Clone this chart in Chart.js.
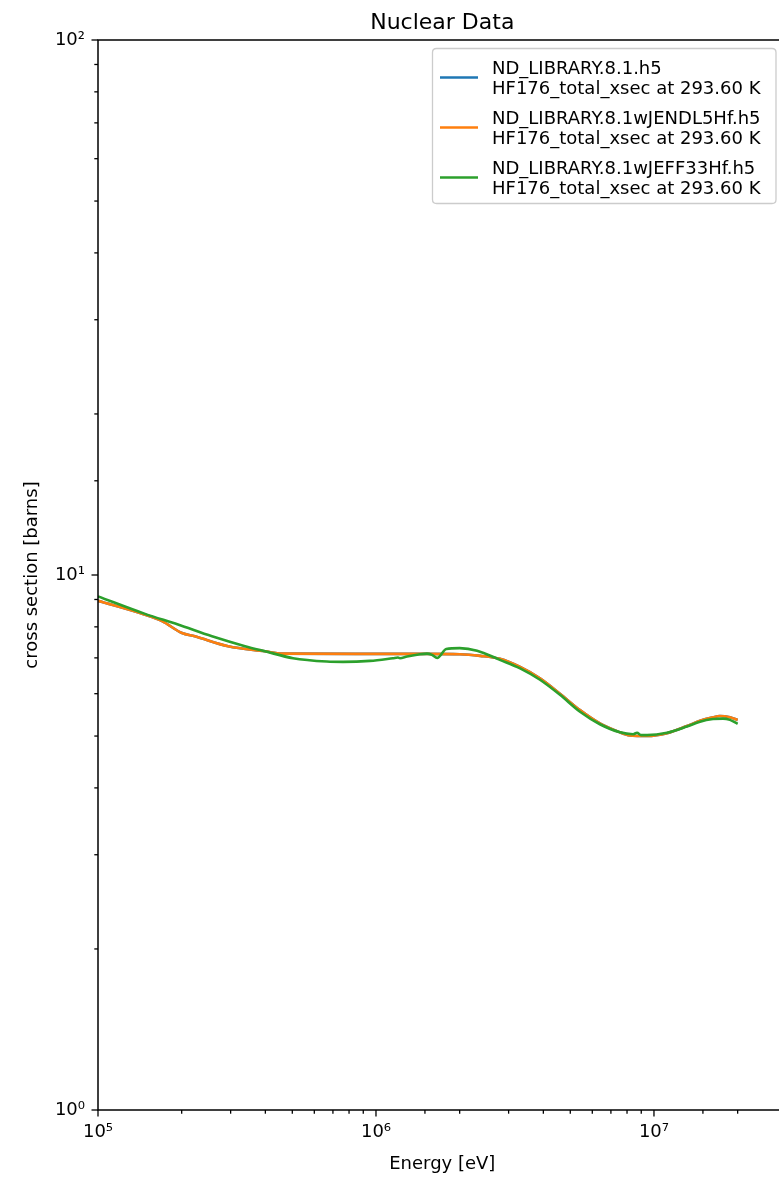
<!DOCTYPE html>
<html>
<head>
<meta charset="utf-8">
<script src="https://cdn.jsdelivr.net/npm/chart.js@4.4.1/dist/chart.umd.min.js"></script>
<style>
  html, body { margin: 0; padding: 0; overflow: hidden; background: #ffffff; }
  #wrap { width: 800px; height: 1177px; }
</style>
</head>
<body>
<div id="wrap"><canvas id="c" width="800" height="1177"></canvas></div>
<script>
// ---- text ----
const chartTitle = 'Nuclear Data';
const xAxisTitle = 'Energy [eV]';
const yAxisTitle = 'cross section [barns]';
const seriesNames = [
  ['ND_LIBRARY.8.1.h5', 'HF176_total_xsec at 293.60 K'],
  ['ND_LIBRARY.8.1wJENDL5Hf.h5', 'HF176_total_xsec at 293.60 K'],
  ['ND_LIBRARY.8.1wJEFF33Hf.h5', 'HF176_total_xsec at 293.60 K']
];
const seriesColors = ['#1f77b4', '#ff7f0e', '#2ca02c'];

// ---- axis ranges and decade labels ----
const xRange = [1e5, 3e7];
const yRange = [1, 100];
const xDecadeLabels = { 5: '10⁵', 6: '10⁶', 7: '10⁷' };
const yDecadeLabels = { 0: '10⁰', 1: '10¹', 2: '10²' };

// ---- ND_LIBRARY.8.1 (base library) ----
const energyBase = [1.00e5, 1.476e5, 1.70e5, 2.005e5, 2.23e5, 2.94e5, 3.99e5, 4.60e5, 8.50e5, 1.50e6,
  2.00e6, 2.37e6, 2.79e6, 3.30e6, 3.89e6, 4.59e6, 5.42e6, 6.39e6, 7.55e6, 8.20e6,
  8.69e6, 9.44e6, 1.114e7, 1.314e7, 1.464e7, 1.63e7, 1.725e7, 1.877e7, 2.00e7];
const xsBase = [8.95, 8.43, 8.20, 7.79, 7.68, 7.36, 7.20, 7.13, 7.12, 7.12,
  7.11, 7.06, 6.97, 6.73, 6.41, 6.00, 5.59, 5.28, 5.08, 5.01,
  5.00, 5.00, 5.06, 5.22, 5.34, 5.42, 5.45, 5.42, 5.36];

// ---- ND_LIBRARY.8.1 with JENDL-5 Hf ----
const energyJendl = [1.00e5, 1.476e5, 1.70e5, 2.005e5, 2.23e5, 2.94e5, 3.99e5, 4.60e5, 8.50e5, 1.50e6,
  2.00e6, 2.37e6, 2.79e6, 3.30e6, 3.89e6, 4.59e6, 5.42e6, 6.39e6, 7.55e6, 8.20e6,
  8.69e6, 9.44e6, 1.114e7, 1.314e7, 1.464e7, 1.63e7, 1.725e7, 1.877e7, 2.00e7];
const xsJendl = [8.95, 8.43, 8.20, 7.79, 7.68, 7.36, 7.20, 7.13, 7.12, 7.12,
  7.11, 7.06, 6.97, 6.73, 6.41, 6.00, 5.59, 5.28, 5.08, 5.01,
  5.00, 5.00, 5.06, 5.22, 5.34, 5.42, 5.45, 5.42, 5.36];

// ---- ND_LIBRARY.8.1 with JEFF-3.3 Hf ----
const energyJeff = [1.00e5, 1.476e5, 1.94e5, 2.571e5, 3.38e5, 3.99e5, 5.03e5, 6.66e5, 7.61e5, 9.51e5,
  1.151e6, 1.20e6, 1.22e6, 1.293e6, 1.44e6, 1.526e6, 1.59e6, 1.66e6, 1.79e6, 2.00e6,
  2.31e6, 2.79e6, 3.30e6, 3.89e6, 4.59e6, 5.42e6, 6.39e6, 7.55e6, 8.41e6, 8.69e6,
  8.99e6, 9.44e6, 1.114e7, 1.314e7, 1.464e7, 1.63e7, 1.771e7, 1.877e7, 2.00e7];
const xsJeff = [9.12, 8.46, 8.08, 7.68, 7.36, 7.20, 6.99, 6.89, 6.88, 6.91,
  6.99, 7.01, 6.99, 7.04, 7.11, 7.13, 7.09, 7.00, 7.27, 7.30,
  7.22, 6.94, 6.69, 6.37, 5.97, 5.55, 5.26, 5.08, 5.04, 5.07,
  5.02, 5.02, 5.07, 5.21, 5.32, 5.38, 5.39, 5.36, 5.27];

const FONT = 'DejaVu Sans';
const toPoints = (xs, ys) => xs.map((x, i) => ({ x: x, y: ys[i] }));
const isDecade = v => { const e = Math.log10(v); return Math.abs(e - Math.round(e)) < 1e-9; };

const seriesData = [
  toPoints(energyBase, xsBase),
  toPoints(energyJendl, xsJendl),
  toPoints(energyJeff, xsJeff)
];

// later series are painted over earlier ones
const datasets = seriesData.map((pts, i) => ({
  label: seriesNames[i].join(' '),
  data: pts,
  order: seriesData.length - 1 - i,
  borderColor: seriesColors[i],
  backgroundColor: seriesColors[i],
  borderWidth: 2.6,
  pointRadius: 0,
  fill: false,
  cubicInterpolationMode: 'monotone'
}));

// spines, tick marks, title and the boxed legend
const framePlugin = {
  id: 'frame',
  afterDatasetsDraw(chart) {
    const { ctx, chartArea: a, scales } = chart;
    ctx.save();
    ctx.strokeStyle = '#000000';
    // tick marks, pointing outward
    ctx.lineWidth = 1.3;
    scales.x.ticks.forEach(t => {
      const px = scales.x.getPixelForValue(t.value);
      if (px < a.left - 0.5 || px > a.right + 0.5) return;
      const len = isDecade(t.value) ? 6.5 : 3.7;
      ctx.beginPath(); ctx.moveTo(px, a.bottom); ctx.lineTo(px, a.bottom + len); ctx.stroke();
    });
    scales.y.ticks.forEach(t => {
      const py = scales.y.getPixelForValue(t.value);
      if (py < a.top - 0.5 || py > a.bottom + 0.5) return;
      const len = isDecade(t.value) ? 6.5 : 3.7;
      ctx.beginPath(); ctx.moveTo(a.left, py); ctx.lineTo(a.left - len, py); ctx.stroke();
    });
    // axes box
    ctx.lineWidth = 1.5;
    ctx.strokeRect(a.left, a.top, a.right - a.left, a.bottom - a.top);

    // title
    ctx.fillStyle = '#000000';
    ctx.font = '22px "' + FONT + '"';
    ctx.textAlign = 'center';
    ctx.textBaseline = 'alphabetic';
    ctx.fillText(chartTitle, (a.left + a.right) / 2, 29);

    // legend
    const bx = 432.5, by = 48.5, bw = 343.5, bh = 155, r = 4;
    ctx.beginPath();
    ctx.moveTo(bx + r, by);
    ctx.lineTo(bx + bw - r, by); ctx.quadraticCurveTo(bx + bw, by, bx + bw, by + r);
    ctx.lineTo(bx + bw, by + bh - r); ctx.quadraticCurveTo(bx + bw, by + bh, bx + bw - r, by + bh);
    ctx.lineTo(bx + r, by + bh); ctx.quadraticCurveTo(bx, by + bh, bx, by + bh - r);
    ctx.lineTo(bx, by + r); ctx.quadraticCurveTo(bx, by, bx + r, by);
    ctx.closePath();
    ctx.fillStyle = 'rgba(255,255,255,0.8)';
    ctx.fill();
    ctx.strokeStyle = '#cccccc';
    ctx.lineWidth = 1.3;
    ctx.stroke();

    ctx.font = '18px "' + FONT + '"';
    ctx.textAlign = 'left';
    ctx.textBaseline = 'alphabetic';
    seriesNames.forEach((lines, i) => {
      const base = 73.5 + i * 50;
      ctx.strokeStyle = seriesColors[i];
      ctx.lineWidth = 2.6;
      ctx.beginPath(); ctx.moveTo(440, base + 4); ctx.lineTo(478, base + 4); ctx.stroke();
      ctx.fillStyle = '#000000';
      lines.forEach((s, j) => ctx.fillText(s, 492, base + j * 20.5));
    });
    ctx.restore();
  }
};

new Chart(document.getElementById('c'), {
  type: 'line',
  data: { datasets: datasets },
  options: {
    responsive: false,
    animation: false,
    layout: { padding: { top: 40, right: 800 - 786.6, left: 0, bottom: 0 } },
    plugins: { legend: { display: false }, title: { display: false }, tooltip: { enabled: false } },
    scales: {
      x: {
        type: 'logarithmic',
        position: 'bottom',
        min: xRange[0],
        max: xRange[1],
        grid: { display: false, drawTicks: false },
        border: { display: false },
        afterFit: s => { s.height = 67; },
        ticks: {
          autoSkip: false,
          maxRotation: 0,
          padding: 12,
          color: '#000000',
          font: { family: FONT, size: 18 },
          callback: v => isDecade(v) ? xDecadeLabels[Math.round(Math.log10(v))] : ''
        },
        title: {
          display: true,
          text: xAxisTitle,
          color: '#000000',
          font: { family: FONT, size: 18 },
          padding: { top: 0, bottom: 1.5 }
        }
      },
      y: {
        type: 'logarithmic',
        position: 'left',
        min: yRange[0],
        max: yRange[1],
        grid: { display: false, drawTicks: false },
        border: { display: false },
        afterFit: s => { s.width = 98; },
        ticks: {
          autoSkip: false,
          padding: 13,
          color: '#000000',
          font: { family: FONT, size: 18 },
          callback: v => isDecade(v) ? yDecadeLabels[Math.round(Math.log10(v))] : ''
        },
        title: {
          display: true,
          text: yAxisTitle,
          color: '#000000',
          font: { family: FONT, size: 18 },
          padding: { top: 22, bottom: 0 }
        }
      }
    }
  },
  plugins: [framePlugin]
});
</script>
</body>
</html>
